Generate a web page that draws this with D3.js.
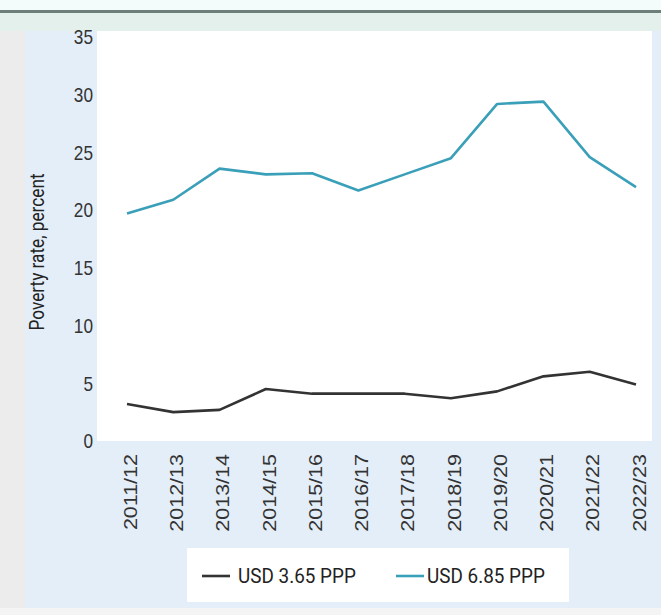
<!DOCTYPE html>
<html>
<head>
<meta charset="utf-8">
<script src="https://cdn.jsdelivr.net/npm/d3@7"></script>
<style>
  body { margin: 0; background: #fff; }
  svg { display: block; font-family: "Roboto", "Liberation Sans", sans-serif; }
</style>
</head>
<body>
<div id="chart"></div>
<script>
const categories = ['2011/12', '2012/13', '2013/14', '2014/15', '2015/16', '2016/17',
  '2017/18', '2018/19', '2019/20', '2020/21', '2021/22', '2022/23']
const usd365 = [3.2, 2.5, 2.7, 4.5, 4.1, 4.1, 4.1, 3.7, 4.3, 5.6, 6.0, 4.9]
const usd685 = [19.7, 20.9, 23.6, 23.1, 23.2, 21.7, 23.1, 24.5, 29.2, 29.4, 24.6, 22.0]
const yTicks = [0, 5, 10, 15, 20, 25, 30, 35]
const seriesNames = ['USD 3.65 PPP', 'USD 6.85 PPP']

const W = 661, H = 615
const colors = ['#333333', '#3a9fb8']
const squash = 0.82 // the source text is condensed

const svg = d3.select('#chart').append('svg').attr('width', W).attr('height', H)

// page decoration: top strip, rule, band, side panel
svg.append('rect').attr('x', 0).attr('y', 0).attr('width', W).attr('height', 11).attr('fill', '#f3fbfb')
svg.append('rect').attr('x', 0).attr('y', 13).attr('width', W).attr('height', H - 13).attr('fill', '#ececec')
svg.append('rect').attr('x', 25).attr('y', 13).attr('width', W - 25).attr('height', 595).attr('fill', '#e4eef8')
svg.append('rect').attr('x', 0).attr('y', 13).attr('width', W).attr('height', 18).attr('fill', '#e4f0ec')
svg.append('rect').attr('x', 0).attr('y', 10).attr('width', W).attr('height', 3).attr('fill', '#6e7f79')
svg.append('rect').attr('x', 0).attr('y', 608).attr('width', W).attr('height', 7).attr('fill', '#f4f4f4')

// plot area
const plot = { left: 97, right: 652, top: 31, bottom: 441 }
svg.append('rect')
  .attr('x', plot.left).attr('y', plot.top)
  .attr('width', plot.right - plot.left).attr('height', plot.bottom - plot.top)
  .attr('fill', '#fff')

const x = d3.scalePoint().domain(categories).range([127, 636])
const y = d3.scaleLinear().domain([0, 35]).range([441, 37])

// y axis
const yAxis = svg.append('g')
  .attr('transform', `translate(${plot.left - 4},0)`)
  .call(d3.axisLeft(y).tickValues(yTicks).tickSize(0).tickPadding(0))
yAxis.select('.domain').remove()
yAxis.selectAll('text')
  .attr('font-size', 21).attr('fill', '#333').attr('font-family', null)
  .attr('x', 0)
  .attr('transform', `scale(${squash},1)`)

// x axis
const xAxis = svg.append('g')
  .attr('transform', `translate(0,${plot.bottom})`)
  .call(d3.axisBottom(x).tickSize(0).tickPadding(0))
xAxis.select('.domain').remove()
xAxis.selectAll('text')
  .attr('font-size', 21.5).attr('fill', '#333').attr('font-family', null)
  .attr('text-anchor', 'end')
  .attr('transform', `scale(0.88,1) rotate(-90)`)
  .attr('x', -13).attr('y', 3).attr('dy', '0.35em')

// y title
svg.append('text')
  .attr('transform', `translate(37,252) rotate(-90) scale(${squash},1)`)
  .attr('text-anchor', 'middle')
  .attr('dy', '0.35em')
  .attr('font-size', 21).attr('fill', '#222')
  .text('Poverty rate, percent')

// lines
const line = d3.line().x((d, i) => x(categories[i])).y(d => y(d))
;[usd365, usd685].forEach((vals, k) => {
  svg.append('path').datum(vals)
    .attr('d', line)
    .attr('fill', 'none')
    .attr('stroke', colors[k])
    .attr('stroke-width', 2.6)
    .attr('stroke-linejoin', 'round')
})

// legend
const lg = svg.append('g')
lg.append('rect').attr('x', 187).attr('y', 548).attr('width', 382).attr('height', 54).attr('fill', '#fff')
const swatchX = [202, 396]
const labelX = [238, 427]
seriesNames.forEach((name, k) => {
  lg.append('line')
    .attr('x1', swatchX[k]).attr('x2', swatchX[k] + 28)
    .attr('y1', 576).attr('y2', 576)
    .attr('stroke', colors[k]).attr('stroke-width', 2.6)
  lg.append('text')
    .attr('transform', `translate(${labelX[k]},576) scale(0.9,1)`)
    .attr('dy', '0.35em')
    .attr('font-size', 21).attr('fill', '#222')
    .text(name)
})
</script>
</body>
</html>
